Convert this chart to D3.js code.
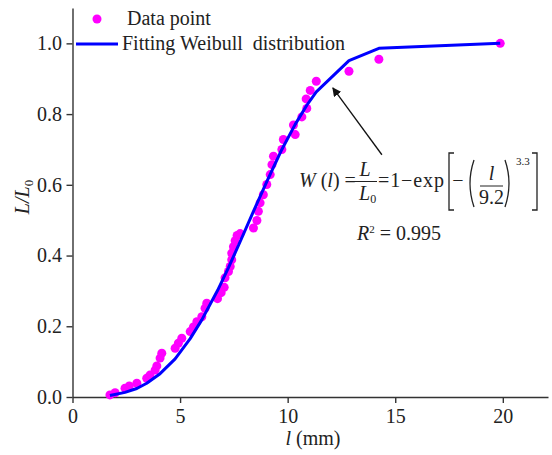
<!DOCTYPE html>
<html>
<head>
<meta charset="utf-8">
<script src="https://cdn.jsdelivr.net/npm/d3@7"></script>
<style>
  body { margin: 0; background: #fff; }
  svg text { font-family: "Liberation Serif", "Times New Roman", Times, Tinos, "DejaVu Serif", serif; fill: #222; }
</style>
</head>
<body>
<div id="chart"></div>
<script>
  var serif = '"Liberation Serif", "Times New Roman", Times, Tinos, "DejaVu Serif", serif';

  // measured points (l in mm, L/L0)
  var dataX = [1.74, 1.98, 2.44, 2.64, 2.99, 3.45, 3.60, 3.84, 3.92, 4.07, 4.15,
               4.77, 4.92, 5.08, 5.47, 5.62, 5.78, 6.01, 6.16, 6.24, 6.74, 6.91,
               7.05, 7.09, 7.25, 7.33, 7.40, 7.40, 7.48, 7.56, 7.65, 7.79, 8.41,
               8.57, 8.64, 8.72, 8.87, 9.03, 9.19, 9.27, 9.34, 9.73, 9.80,
               10.27, 10.35, 10.66, 10.89, 10.86, 11.05, 11.33, 12.85, 14.24, 19.88];
  var dataY = [0.006, 0.012, 0.025, 0.031, 0.039, 0.053, 0.062, 0.076, 0.088, 0.110, 0.124,
               0.138, 0.152, 0.166, 0.185, 0.198, 0.213, 0.227, 0.251, 0.265, 0.278, 0.295,
               0.310, 0.337, 0.355, 0.369, 0.388, 0.407, 0.425, 0.442, 0.457, 0.462, 0.478,
               0.499, 0.525, 0.549, 0.572, 0.601, 0.629, 0.657, 0.681, 0.700, 0.728,
               0.769, 0.742, 0.792, 0.816, 0.843, 0.867, 0.893, 0.921, 0.955, 1.0];

  // fitted Weibull curve as drawn (vertices at the measured lengths)
  var fitX = [1.74, 2.44, 2.99, 3.45, 4.07, 4.77, 5.47, 6.01, 6.74, 7.25,
              7.79, 8.41, 9.03, 9.73, 10.35, 10.89, 11.33, 12.85, 14.24, 19.88];
  var fitY = [0.004, 0.013, 0.024, 0.039, 0.066, 0.108, 0.165, 0.218, 0.301, 0.366,
              0.439, 0.525, 0.609, 0.700, 0.771, 0.825, 0.863, 0.951, 0.986, 1.0];

  var xTicks = [0, 5, 10, 15, 20];
  var yTicks = [0.0, 0.2, 0.4, 0.6, 0.8, 1.0];

  var width = 552, height = 455;
  var svg = d3.select('#chart').append('svg')
    .attr('width', width)
    .attr('height', height)
    .attr('font-family', serif);

  var x = d3.scaleLinear().domain([0, 22.1]).range([72.5, 548]);
  var y = d3.scaleLinear().domain([0, 1.1]).range([397, 8]);

  var axisColor = '#333';

  // x axis
  var gx = svg.append('g')
    .attr('transform', 'translate(0,' + y(0) + ')')
    .call(d3.axisBottom(x).tickValues(xTicks).tickSize(6).tickSizeOuter(0)
      .tickPadding(6).tickFormat(d3.format('d')));
  // y axis
  var gy = svg.append('g')
    .attr('transform', 'translate(' + x(0) + ',0)')
    .call(d3.axisLeft(y).tickValues(yTicks).tickSize(6).tickSizeOuter(0)
      .tickPadding(4.5).tickFormat(d3.format('.1f')));

  [gx, gy].forEach(function(g) {
    g.attr('font-family', serif).attr('font-size', 20);
    g.selectAll('path, line').attr('stroke', axisColor).attr('stroke-width', 1.4);
    g.selectAll('text').attr('fill', '#222');
  });

  // data points
  var pts = dataX.map(function(d, i) { return [d, dataY[i]]; });
  svg.append('g').selectAll('circle')
    .data(pts)
    .enter().append('circle')
    .attr('cx', function(d) { return x(d[0]); })
    .attr('cy', function(d) { return y(d[1]); })
    .attr('r', 4.5)
    .attr('fill', '#ff00ff');

  // fit line
  var fit = fitX.map(function(d, i) { return [d, fitY[i]]; });
  svg.append('path')
    .datum(fit)
    .attr('fill', 'none')
    .attr('stroke', '#0000ff')
    .attr('stroke-width', 3)
    .attr('stroke-linejoin', 'round')
    .attr('d', d3.line()
      .x(function(d) { return x(d[0]); })
      .y(function(d) { return y(d[1]); }));

  // legend
  svg.append('circle').attr('cx', 97).attr('cy', 19).attr('r', 4.5).attr('fill', '#ff00ff');
  svg.append('text').attr('x', 127).attr('y', 25).style('font-size', '20px').text('Data point');
  svg.append('line').attr('x1', 76).attr('x2', 118).attr('y1', 44).attr('y2', 44)
    .attr('stroke', '#0000ff').attr('stroke-width', 3);
  svg.append('text').attr('x', 122).attr('y', 50).style('font-size', '20px')
    .style('white-space', 'pre').text('Fitting Weibull  distribution');

  // axis titles
  var xt = svg.append('text').attr('x', 313).attr('y', 445)
    .attr('text-anchor', 'middle').style('font-size', '20px');
  xt.append('tspan').style('font-style', 'italic').text('l');
  xt.append('tspan').text(' (mm)');

  var yt = svg.append('text')
    .attr('transform', 'translate(29,197) rotate(-90)')
    .attr('text-anchor', 'middle').style('font-size', '20px');
  yt.append('tspan').style('font-style', 'italic').text('L/L');
  yt.append('tspan').attr('dy', 4).style('font-size', '13px').text('0');

  // arrow
  svg.append('defs').append('marker')
    .attr('id', 'arrow')
    .attr('viewBox', '0 0 10 10')
    .attr('refX', 9).attr('refY', 5)
    .attr('markerWidth', 9).attr('markerHeight', 9)
    .attr('markerUnits', 'userSpaceOnUse')
    .attr('orient', 'auto')
    .append('path').attr('d', 'M0,0 L10,5 L0,10 z').attr('fill', '#111');
  svg.append('line')
    .attr('x1', x(14.38)).attr('y1', y(0.685))
    .attr('x2', x(12.10)).attr('y2', y(0.874))
    .attr('stroke', '#111').attr('stroke-width', 1.3)
    .attr('marker-end', 'url(#arrow)');

  // equation
  var eq = svg.append('g').style('font-size', '20px');
  var t1 = eq.append('text').attr('x', 299).attr('y', 187);
  t1.append('tspan').style('font-style', 'italic').text('W');
  t1.append('tspan').text(' (');
  t1.append('tspan').style('font-style', 'italic').text('l');
  t1.append('tspan').text(') =');

  eq.append('text').attr('x', 365).attr('y', 176).attr('text-anchor', 'middle')
    .style('font-style', 'italic').text('L');
  eq.append('line').attr('x1', 353).attr('x2', 377).attr('y1', 181.5).attr('y2', 181.5)
    .attr('stroke', '#222').attr('stroke-width', 1);
  var den = eq.append('text').attr('x', 359).attr('y', 200);
  den.append('tspan').style('font-style', 'italic').text('L');
  den.append('tspan').attr('dy', 3).style('font-size', '12px').text('0');

  eq.append('text').attr('x', 378).attr('y', 187).attr('textLength', 66).text('=1\u2212exp');

  function bracket(x0, dir) {
    eq.append('path')
      .attr('d', 'M' + (x0 + 5 * dir) + ',153 H' + x0 + ' V210 H' + (x0 + 5 * dir))
      .attr('fill', 'none').attr('stroke', '#222').attr('stroke-width', 1.3);
  }
  bracket(449, 1);
  bracket(537, -1);
  eq.append('text').attr('x', 458).attr('y', 187).attr('text-anchor', 'middle').text('\u2212');
  function paren(x0, dir) {
    eq.append('path')
      .attr('d', 'M' + (x0 + 4 * dir) + ',160 Q' + (x0 - 4 * dir) + ',183.5 ' + (x0 + 4 * dir) + ',207')
      .attr('fill', 'none').attr('stroke', '#222').attr('stroke-width', 1.3);
  }
  paren(470, 1);
  paren(509, -1);
  eq.append('text').attr('x', 491.5).attr('y', 180).attr('text-anchor', 'middle')
    .style('font-style', 'italic').text('l');
  eq.append('line').attr('x1', 480).attr('x2', 503).attr('y1', 186).attr('y2', 186)
    .attr('stroke', '#222').attr('stroke-width', 1);
  eq.append('text').attr('x', 491.5).attr('y', 204).attr('text-anchor', 'middle').text('9.2');
  eq.append('text').attr('x', 516).attr('y', 165).style('font-size', '11px').text('3.3');

  var r2 = eq.append('text').attr('x', 357).attr('y', 240);
  r2.append('tspan').style('font-style', 'italic').text('R');
  r2.append('tspan').attr('dy', -7).style('font-size', '11px').text('2');
  r2.append('tspan').attr('dy', 7).text(' = 0.995');
</script>
</body>
</html>
